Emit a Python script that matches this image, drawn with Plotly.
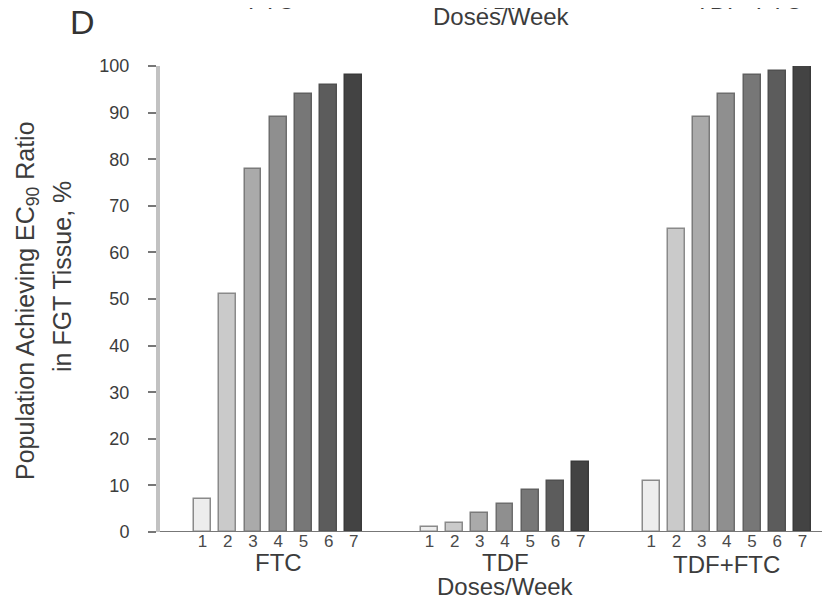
import plotly.graph_objects as go

groups = ["FTC", "TDF", "TDF+FTC"]
doses = [1, 2, 3, 4, 5, 6, 7]
dose_labels = ["1", "2", "3", "4", "5", "6", "7"]
ftc = [7, 51, 78, 89, 94, 96, 98]
tdf = [1, 2, 4, 6, 9, 11, 15]
tdf_ftc = [11, 65, 89, 94, 98, 99, 100]
values = [ftc, tdf, tdf_ftc]
x_title = "Doses/Week"
group_offsets = [0, 9, 17.8]
fills = ["#ededed", "#cacaca", "#aaaaaa", "#8f8f8f", "#777777", "#5c5c5c", "#434343"]
edges = ["#8a8a8a", "#8a8a8a", "#7a7a7a", "#6e6e6e", "#606060", "#505050", "#3a3a3a"]

W, H = 830, 599
L, R, T, B = 152, 0, 58, 75
PW, PH = W - L - R, H - T - B
FONT = "Liberation Sans, Arial, sans-serif"
TXT = "#3c3c3c"

def py(p):  # pixel y -> paper
    return (H - B - p) / PH

def px(p):
    return (p - L) / PW

fig = go.Figure()
xs_all, txt_all = [], []
for g, off in enumerate(group_offsets):
    xs = [off + (d - 1) for d in doses]
    xs_all += xs
    txt_all += dose_labels
    fig.add_trace(go.Bar(
        x=xs, y=values[g], width=0.67,
        marker=dict(color=fills, line=dict(color=edges, width=1.5)),
        showlegend=False, hoverinfo="y"))

fig.update_layout(
    width=W, height=H, margin=dict(l=L, r=R, t=T, b=B),
    paper_bgcolor="white", plot_bgcolor="white",
    font=dict(family=FONT, color=TXT),
    bargap=0,
    xaxis=dict(range=[-1.69, 25.21], tickvals=xs_all, ticktext=txt_all,
               showgrid=False, zeroline=False, showline=False, ticks="",
               tickfont=dict(size=17, color="#4a4a4a"), ticklabelstandoff=-3),
    yaxis=dict(range=[0, 100], tickvals=list(range(0, 101, 10)),
               showgrid=False, zeroline=False, showline=True,
               linecolor="#c2c2c2", linewidth=4,
               ticks="outside", ticklen=8, tickwidth=2, tickcolor="#777",
               tickfont=dict(size=18, color=TXT), ticklabelstandoff=15),
)

# baseline
fig.add_shape(type="line", xref="paper", yref="y", x0=0, x1=1, y0=0, y1=0,
              line=dict(color="#777", width=2))

ann = []
def label(x, xref, y, text, size=24, color=TXT, **kw):
    ann.append(dict(x=x, xref=xref, y=y, yref="paper", text=text, showarrow=False,
                    font=dict(size=size, color=color, family=FONT),
                    xanchor="center", yanchor="middle", **kw))

# group labels under the axis
label(group_offsets[0] + 3, "x", py(554), groups[0])
label(group_offsets[1] + 3, "x", py(554), groups[1])
label(group_offsets[1] + 3, "x", py(578), x_title)
label(group_offsets[2] + 3, "x", py(556), groups[2])
# cut-off labels of the panel above
label(px(263), "paper", py(-7), groups[0])
label(px(493), "paper", py(-8), groups[1])
label(px(493), "paper", py(9), x_title)
label(px(740), "paper", py(-7), groups[2])
# panel letter
label(px(74), "paper", py(14), "D", size=34, color="#333")
# y title (two lines)
label(px(19), "paper", py(293), "Population Achieving EC<sub>90</sub> Ratio", size=25, textangle=-90)
label(px(54), "paper", py(268), "in FGT Tissue, %", size=25, textangle=-90)
fig.update_layout(annotations=ann)

fig.write_html("out.html")
